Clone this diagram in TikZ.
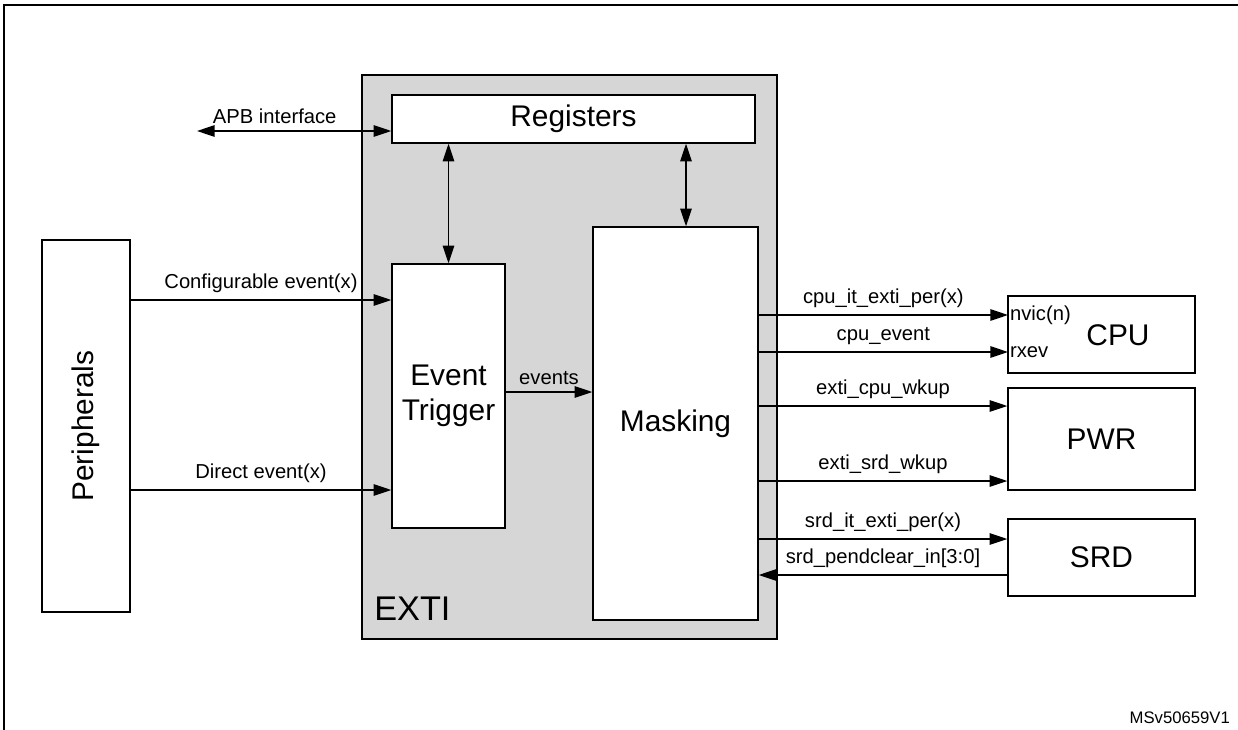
\documentclass[tikz,border=0pt]{standalone}
\usepackage{fontspec}
\setmainfont{Liberation Sans}
\usetikzlibrary{arrows.meta}
\begin{document}
\begin{tikzpicture}[x=0.02cm,y=-0.02cm,
  blk/.style={draw,thick,fill=white,inner sep=0pt},
  sig/.style={thick,-{Triangle[length=10pt,width=6.5pt]}},
  bisig/.style={thick,{Triangle[length=10pt,width=6.5pt]}-{Triangle[length=10pt,width=6.5pt]}},
  lbl/.style={font=\fontsize{11.5}{13}\selectfont,inner sep=1pt},
  big/.style={font=\fontsize{17}{20}\selectfont,align=center}]
\useasboundingbox (0,0) rectangle (1238,730);
% frame
\draw[thick] (4,730) -- (4,5) -- (1238,5);
% EXTI block
\draw[thick,fill=black!16] (362,75) rectangle (777,639);
\node[anchor=south west,inner sep=0pt,font=\fontsize{19.5}{22}\selectfont] (exti) at (374,621) {EXTI};
\node[blk,big,minimum width=363*0.02cm,minimum height=48*0.02cm] (reg) at (573.5,119) {Registers};
\node[blk,big,minimum width=113*0.02cm,minimum height=264*0.02cm] (trig) at (448.5,396) {Event\\Trigger};
\node[blk,big,minimum width=165*0.02cm,minimum height=393*0.02cm] (mask) at (675.5,423.5) {Masking};
\node[blk,big,minimum width=88*0.02cm,minimum height=372*0.02cm] (peri) at (86,426) {\rotatebox{90}{Peripherals}};
\node[blk,big,minimum width=187*0.02cm,minimum height=77*0.02cm] (cpu) at (1101.5,334.5) {};
\node[big] (cpun) at (1118,335) {CPU};
\node[blk,big,minimum width=187*0.02cm,minimum height=102*0.02cm] (pwr) at (1101.5,439) {PWR};
\node[blk,big,minimum width=187*0.02cm,minimum height=77*0.02cm] (srd) at (1101.5,557.5) {SRD};
\node[lbl,anchor=west] (nvic) at (1008,315) {nvic(n)};
\node[lbl,anchor=west] (rxev) at (1008,352) {rxev};
% interface and internal arrows
\coordinate (apb) at (197,131);
\draw[bisig] (apb) -- (reg.west |- apb) node[lbl,pos=0.4,above=3pt] {APB interface};
\draw[bisig] (reg.south -| trig) -- (trig.north);
\draw[bisig] (reg.south -| 686,0) -- (mask.north -| 686,0);
\draw[sig] (peri.east |- 0,300) -- (trig.west |- 0,300) node[lbl,midway,above=3pt] {Configurable event(x)};
\draw[sig] (peri.east |- 0,490) -- (trig.west |- 0,490) node[lbl,midway,above=3pt] {Direct event(x)};
\draw[sig] (trig.east |- 0,392) -- (mask.west |- 0,392) node[lbl,midway,above=3pt] {events};
% outputs
\draw[sig] (mask.east |- 0,315) -- (nvic.west) node[lbl,midway,above=3pt] {cpu\_it\_exti\_per(x)};
\draw[sig] (mask.east |- 0,352) -- (rxev.west) node[lbl,midway,above=3pt] {cpu\_event};
\draw[sig] (mask.east |- 0,406) -- (pwr.west |- 0,406) node[lbl,midway,above=3pt] {exti\_cpu\_wkup};
\draw[sig] (mask.east |- 0,481) -- (pwr.west |- 0,481) node[lbl,midway,above=3pt] {exti\_srd\_wkup};
\draw[sig] (mask.east |- 0,539) -- (srd.west |- 0,539) node[lbl,midway,above=3pt] {srd\_it\_exti\_per(x)};
\draw[sig] (srd.west |- 0,575) -- (mask.east |- 0,575) node[lbl,midway,above=3pt] {srd\_pendclear\_in[3:0]};
\node[anchor=east,inner sep=1pt,font=\fontsize{9.5}{11}\selectfont] (ref) at (1232,718) {MSv50659V1};
\end{tikzpicture}
\end{document}
